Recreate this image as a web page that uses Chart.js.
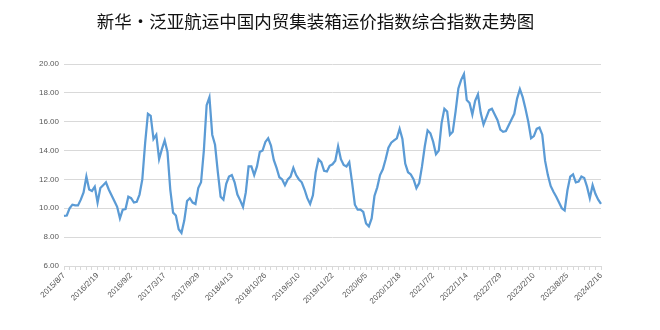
<!DOCTYPE html>
<html>
<head>
<meta charset="utf-8">
<script src="https://cdn.jsdelivr.net/npm/chart.js@4"></script>
<style>
  body { margin: 0; background: #fff; }
</style>
</head>
<body>
<canvas id="indexChart" width="660" height="330"></canvas>
<script>
// tick labels on the date axis, one every 12 points
const tickLabels = ['2015/8/7', '2016/2/19', '2016/9/2', '2017/3/17', '2017/9/29', '2018/4/13',
    '2018/10/26', '2019/5/10', '2019/11/22', '2020/6/5', '2020/12/18', '2021/7/2',
    '2022/1/14', '2022/7/29', '2023/2/10', '2023/8/25', '2024/2/16'];

// composite index
const indexValues = [
    9.47, 9.5, 10.0, 10.25, 10.2, 10.2, 10.6, 11.1, 12.2, 11.3, 11.2, 11.5,
    10.4, 11.4, 11.6, 11.8, 11.3, 10.9, 10.5, 10.1, 9.3, 9.9, 9.95, 10.8,
    10.7, 10.4, 10.45, 10.95, 12.0, 14.5, 16.55, 16.4, 14.8, 15.1, 13.4, 14.1,
    14.7, 13.9, 11.3, 9.7, 9.5, 8.55, 8.3, 9.15, 10.5, 10.7, 10.4, 10.3,
    11.4, 11.8, 14.0, 17.15, 17.7, 15.1, 14.4, 12.5, 10.8, 10.6, 11.7, 12.2,
    12.3, 11.8, 10.95, 10.55, 10.1, 11.1, 12.9, 12.9, 12.3, 12.9, 13.9, 14.0,
    14.6, 14.85, 14.35, 13.35, 12.8, 12.15, 12.0, 11.6, 12.0, 12.2, 12.8, 12.3,
    12.0, 11.8, 11.3, 10.7, 10.3, 10.9, 12.5, 13.4, 13.2, 12.6, 12.55, 12.95,
    13.05, 13.3, 14.3, 13.4, 13.0, 12.9, 13.2, 11.8, 10.25, 9.9, 9.9, 9.75,
    8.95, 8.75, 9.3, 10.85, 11.45, 12.3, 12.7, 13.4, 14.2, 14.55, 14.7, 14.85,
    15.5, 14.8, 13.1, 12.5, 12.35, 12.0, 11.4, 11.75, 12.9, 14.3, 15.4, 15.2,
    14.6, 13.75, 14.0, 15.9, 16.9, 16.7, 15.1, 15.3, 16.7, 18.3, 18.9, 19.3,
    17.5, 17.3, 16.5, 17.45, 17.9, 16.6, 15.8, 16.3, 16.8, 16.9, 16.5, 16.1,
    15.45, 15.3, 15.35, 15.75, 16.15, 16.55, 17.6, 18.25, 17.7, 16.9, 16.0, 14.85,
    15.0, 15.5, 15.6, 15.1, 13.3, 12.3, 11.55, 11.15, 10.8, 10.4, 10.0, 9.85,
    11.25, 12.2, 12.35, 11.8, 11.85, 12.2, 12.1, 11.5, 10.7, 11.6, 11.0, 10.6,
    10.3
];

const pointsPerLabel = 12;
const categories = indexValues.map((v, i) => i % pointsPerLabel === 0 ? tickLabels[i / pointsPerLabel] : '');

const axisFont = { family: '"Liberation Sans", Arial, sans-serif', size: 8 };

new Chart(document.getElementById('indexChart'), {
    type: 'line',
    data: {
        labels: categories,
        datasets: [{
            label: '综合指数',
            data: indexValues,
            borderColor: '#5B9BD5',
            borderWidth: 2.25,
            pointRadius: 0,
            tension: 0,
            fill: false
        }]
    },
    options: {
        responsive: false,
        animation: false,
        layout: { padding: { left: 30, right: 59, top: 0, bottom: 0 } },
        plugins: {
            legend: { display: false },
            tooltip: { enabled: false },
            title: {
                display: true,
                text: '新华·泛亚航运中国内贸集装箱运价指数综合指数走势图',
                color: '#111',
                font: { family: '"Noto Sans CJK SC", sans-serif', size: 17.5, weight: 'normal' },
                padding: { top: 11, bottom: 32 }
            }
        },
        scales: {
            x: {
                offset: false,
                border: { color: '#D9D9D9' },
                grid: {
                    drawOnChartArea: false,
                    drawTicks: true,
                    tickLength: 4,
                    color: (c) => c.index % 2 === 0 ? '#D9D9D9' : 'rgba(0,0,0,0)'
                },
                ticks: {
                    autoSkip: false,
                    minRotation: 45,
                    maxRotation: 45,
                    padding: 1,
                    color: '#595959',
                    font: axisFont,
                    callback: (v, i) => categories[i]
                },
                afterFit: (scale) => { scale.height = 64; }
            },
            y: {
                min: 6,
                max: 20,
                border: { display: false },
                grid: { color: '#D9D9D9', drawTicks: false },
                ticks: {
                    stepSize: 2,
                    padding: 5,
                    color: '#595959',
                    font: axisFont,
                    callback: (v) => v.toFixed(2)
                },
                afterFit: (scale) => { scale.width = 34; }
            }
        }
    }
});
</script>
</body>
</html>
